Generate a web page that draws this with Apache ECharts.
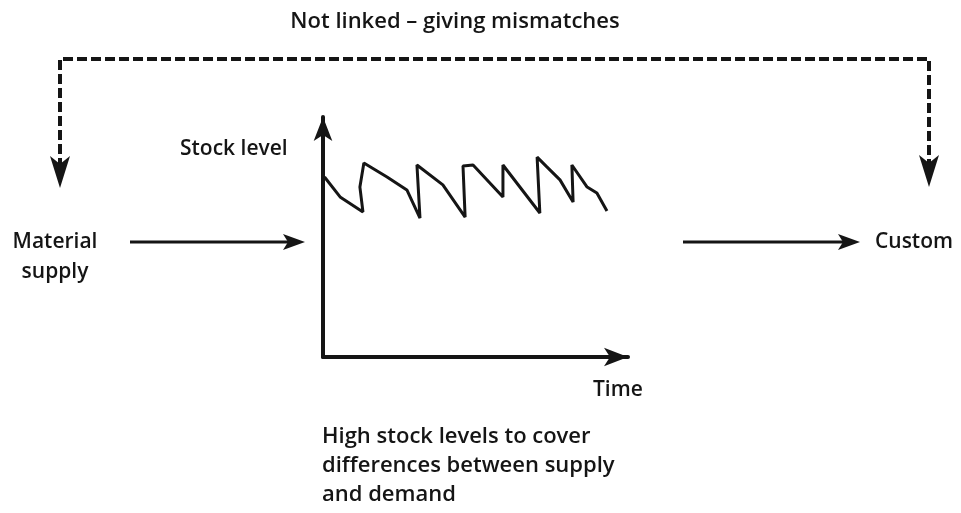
<!DOCTYPE html>
<html>
<head>
<meta charset="utf-8">
<title>Stock level</title>
<script src="https://cdn.jsdelivr.net/npm/echarts@6/dist/echarts.min.js"></script>
<style>
html, body { margin: 0; padding: 0; background: #fff; }
#main { width: 961px; height: 513px; }
</style>
</head>
<body>
<div id="main"></div>
<script>
// sawtooth stock curve (time / stock units, 0-100)
const timeVals  = [0.5, 5.6, 13.1, 12.1, 13.4, 21.0, 27.5, 31.8, 30.8, 39.3, 46.6, 45.9, 49.2, 59.0, 59.0, 71.1, 70.2, 73.4, 77.7, 82.0, 81.6, 86.6, 89.8, 93.1]
const stockVals = [75.0, 66.7, 60.4, 70.8, 80.8, 75.0, 69.6, 57.9, 80.0, 71.7, 58.3, 79.6, 80.0, 66.7, 80.0, 60.0, 83.3, 79.2, 73.8, 64.6, 80.0, 70.8, 68.3, 60.8]

const titleText  = 'Not linked – giving mismatches'
const yName      = 'Stock level'
const xName      = 'Time'
const leftLabel  = ['Material', 'supply']
const rightLabel = 'Custom'
const noteLines  = ['High stock levels to cover', 'differences between supply', 'and demand']

const ink = '#151515'
const font = '"Open Sans", "Noto Sans", sans-serif'

let seriesData = []
for (let i = 0; i < timeVals.length; i++) {
	seriesData.push([timeVals[i], stockVals[i]])
}

// plain text helper for the graphic layer
function txt(x, y, s, align, size) {
	return {
		type: 'text', x: x, y: y, silent: true,
		style: { text: s, fill: ink, font: '600 ' + (size || 21) + 'px ' + font, textAlign: align || 'left', textVerticalAlign: 'middle' }
	}
}

// arrow head pointing right / down, tip at (x, y)
function headRight(x, y) {
	return { type: 'polygon', silent: true, shape: { points: [[x - 22, y - 8], [x, y], [x - 22, y + 8], [x - 17, y]] }, style: { fill: ink } }
}
function headDown(x, y) {
	return { type: 'polygon', silent: true, shape: { points: [[x - 10, y - 32], [x, y], [x + 10, y - 32], [x, y - 24]] }, style: { fill: ink } }
}

let graphics = [
	txt(455, 22, titleText, 'center', 22),
	txt(180, 149, yName),
	txt(593, 390, xName),
	txt(55, 242, leftLabel[0], 'center'),
	txt(55, 272, leftLabel[1], 'center'),
	txt(875, 242, rightLabel),
	txt(322, 437, noteLines[0], 'left', 22),
	txt(322, 466, noteLines[1], 'left', 22),
	txt(322, 495, noteLines[2], 'left', 22),
	// dashed feedback bracket
	{
		type: 'polyline', silent: true,
		shape: { points: [[60, 168], [60, 59], [929, 59], [929, 168]] },
		style: { stroke: ink, lineWidth: 4, lineDash: [10, 4], fill: null }
	},
	headDown(60, 188),
	headDown(929, 187),
	// supply / customer arrows
	{ type: 'line', silent: true, shape: { x1: 130, y1: 242, x2: 290, y2: 242 }, style: { stroke: ink, lineWidth: 3 } },
	headRight(305, 242),
	{ type: 'line', silent: true, shape: { x1: 683, y1: 242, x2: 845, y2: 242 }, style: { stroke: ink, lineWidth: 3 } },
	headRight(860, 242)
]

const myChart = echarts.init(document.getElementById('main'))

let option = {
	backgroundColor: '#fff',
	animation: false,
	grid: { left: 323, top: 117, width: 305, bottom: 156, containLabel: false },
	xAxis: {
		type: 'value', min: 0, max: 100,
		axisLine: { show: true, lineStyle: { color: ink, width: 4 }, symbol: ['none', 'arrow'], symbolSize: [14, 24] },
		axisTick: { show: false }, axisLabel: { show: false }, splitLine: { show: false }
	},
	yAxis: {
		type: 'value', min: 0, max: 100,
		axisLine: { show: true, lineStyle: { color: ink, width: 4 }, symbol: ['none', 'arrow'], symbolSize: [14, 24] },
		axisTick: { show: false }, axisLabel: { show: false }, splitLine: { show: false }
	},
	graphic: graphics,
	series: [{
		type: 'line',
		data: seriesData,
		showSymbol: false,
		lineStyle: { color: ink, width: 3 },
		z: 3
	}]
}

myChart.setOption(option)
</script>
</body>
</html>
